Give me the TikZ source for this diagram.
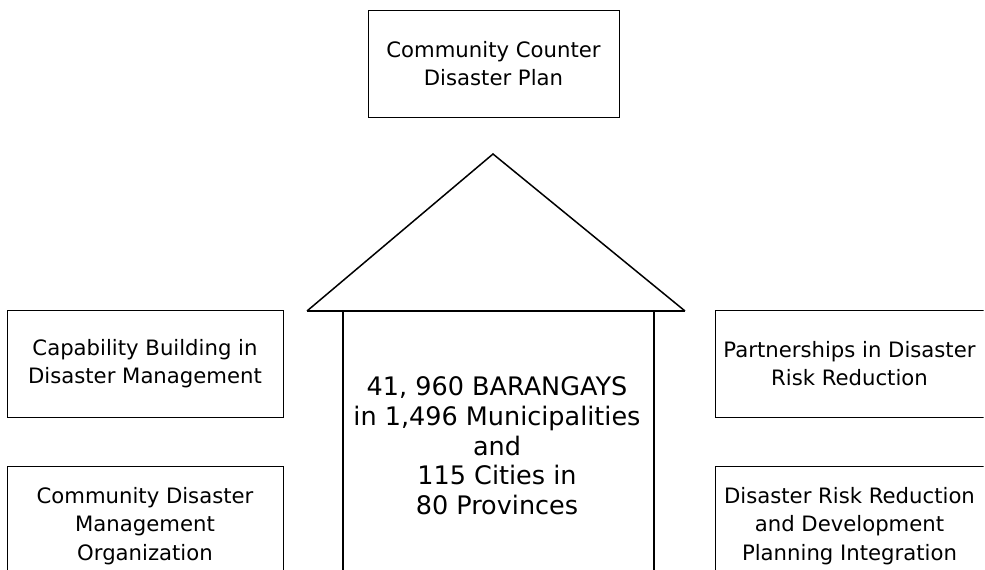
\documentclass[tikz,border=0pt]{standalone}
\usepackage{fontspec}
\setmainfont{DejaVu Sans}
\begin{document}
\begin{tikzpicture}[x=1pt,y=-1pt,
  plan/.style={draw,line width=1pt,align=center,inner sep=0pt,
    font=\fontsize{21.2}{28.5}\selectfont},
  house/.style={line width=2pt}]
\useasboundingbox (0,0) rectangle (985,570);
\clip (0,0) rectangle (983.5,570);
\node[plan,minimum width=251,minimum height=107] (counter) at (493.5,63.5)
  {Community Counter\\Disaster Plan};
\node[plan,minimum width=276,minimum height=107] (capability) at (145,363.5)
  {Capability Building in\\Disaster Management};
\node[plan,minimum width=276,minimum height=120] (organization) at (145,526)
  {Community Disaster\\Management\\Organization};
\node[plan,minimum width=269,minimum height=107] (partnership) at (849.5,363.5)
  {Partnerships in Disaster\\Risk Reduction};
\node[plan,minimum width=269,minimum height=120] (integration) at (849.5,526)
  {Disaster Risk Reduction\\and Development\\Planning Integration};
% the house
\coordinate (apex) at (493,154);
\coordinate (eaveL) at (307,311);
\coordinate (eaveR) at (685,311);
\draw[line width=1.5pt,line join=miter] (eaveL) -- (apex) -- (eaveR);
\draw[house] (eaveL) -- (eaveR);
\draw[house] (343,311) -- (343,580) (654,311) -- (654,580);
\node[align=center,font=\fontsize{25.5}{29.7}\selectfont] (barangays) at (497,446)
  {41, 960 BARANGAYS\\in 1,496 Municipalities\\and\\115 Cities in\\80 Provinces};
\end{tikzpicture}
\end{document}
